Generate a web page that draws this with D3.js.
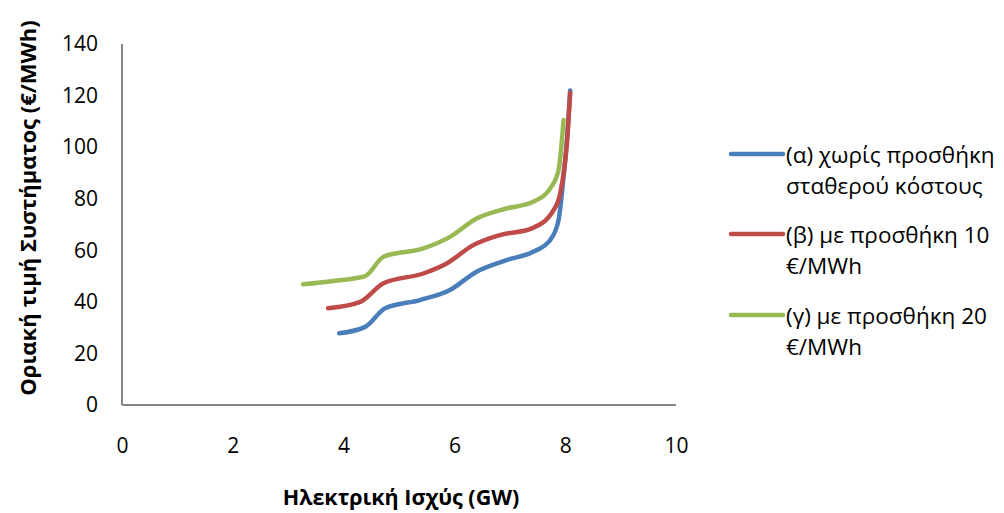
<!DOCTYPE html>
<html>
<head>
<meta charset="utf-8">
<script src="https://cdn.jsdelivr.net/npm/d3@7"></script>
<style>
  html, body { margin: 0; padding: 0; background: #fff; }
  svg { display: block; }
  text { font-family: "Open Sans", "Noto Sans", sans-serif; fill: #000; }
</style>
</head>
<body>
<svg id="chart" width="1004" height="513"></svg>
<script>
// Power (GW) vs system marginal price (€/MWh) for the three scenarios
const seriesNames = [
  ["(α) χωρίς προσθήκη", "σταθερού κόστους"],
  ["(β) με προσθήκη 10", "€/MWh"],
  ["(γ) με προσθήκη 20", "€/MWh"]
];
const seriesColors = ["#4A7EBB", "#BE4B48", "#98B954"];

const powerA = [3.92, 4.39, 4.75, 5.38, 5.92, 6.40, 6.94, 7.42, 7.73, 7.88, 7.97, 8.04, 8.09];
const priceA = [27.8, 30.3, 37.5, 40.7, 44.6, 51.7, 56.2, 59.4, 64.0, 71.7, 88.5, 105.0, 122.0];

const powerB = [3.72, 4.30, 4.72, 5.44, 5.86, 6.34, 6.82, 7.40, 7.79, 7.91, 8.03, 8.09];
const priceB = [37.5, 40.0, 47.2, 51.0, 54.9, 62.0, 65.9, 68.5, 75.6, 82.0, 101.4, 121.0];

const powerC = [3.27, 3.81, 4.39, 4.72, 5.44, 5.92, 6.40, 6.94, 7.42, 7.73, 7.88, 7.97];
const priceC = [46.8, 48.1, 50.0, 57.5, 60.7, 65.2, 72.3, 76.2, 78.8, 84.0, 91.1, 110.5];

const xTicks = [0, 2, 4, 6, 8, 10];
const yTicks = [0, 20, 40, 60, 80, 100, 120, 140];

const xTitle = "Ηλεκτρική Ισχύς (GW)";
const yTitle = "Οριακή τιμή Συστήματος (€/MWh)";

const series = [
  { power: powerA, price: priceA },
  { power: powerB, price: priceB },
  { power: powerC, price: priceC }
].map((s, i) => ({
  name: seriesNames[i],
  color: seriesColors[i],
  points: s.power.map((p, j) => [p, s.price[j]])
}));

const svg = d3.select("#chart");
const plot = { left: 122, right: 676, top: 44, bottom: 405 };

const x = d3.scaleLinear().domain([0, 10]).range([plot.left, plot.right]);
const y = d3.scaleLinear().domain([0, 140]).range([plot.bottom, plot.top]);

// Axes: plain grey lines, labels without tick marks
const xAxis = d3.axisBottom(x).tickValues(xTicks).tickSize(0).tickPadding(33);
const yAxis = d3.axisLeft(y).tickValues(yTicks).tickSize(0).tickPadding(24);

const gx = svg.append("g").attr("transform", `translate(0,${plot.bottom})`).call(xAxis);
const gy = svg.append("g").attr("transform", `translate(${plot.left},0)`).call(yAxis);

[gx, gy].forEach(g => {
  g.select(".domain").attr("stroke", "#868686").attr("stroke-width", 2);
  g.selectAll("text")
    .style("font-family", '"Open Sans", "Noto Sans", sans-serif')
    .style("font-size", "21px")
    .attr("fill", "#000");
});
gx.select(".domain").attr("d", `M${plot.left},0H${plot.right}`);
gy.select(".domain").attr("d", `M0,${plot.top}V${plot.bottom}`);

// Curves
const line = d3.line()
  .x(d => x(d[0]))
  .y(d => y(d[1]))
  .curve(d3.curveMonotoneX);

svg.append("g").selectAll("path")
  .data(series)
  .join("path")
  .attr("d", d => line(d.points))
  .attr("fill", "none")
  .attr("stroke", d => d.color)
  .attr("stroke-width", 4.5)
  .attr("stroke-linecap", "round")
  .attr("stroke-linejoin", "round");

// Axis titles
svg.append("text")
  .attr("x", 401)
  .attr("y", 505)
  .attr("text-anchor", "middle")
  .style("font-size", "21.5px")
  .style("font-weight", "bold")
  .text(xTitle);

svg.append("text")
  .attr("transform", "translate(36,208) rotate(-90)")
  .attr("text-anchor", "middle")
  .style("font-size", "22px")
  .style("font-weight", "bold")
  .text(yTitle);

// Legend
const legend = svg.append("g");
const legendY = [154, 234, 315];
series.forEach((s, i) => {
  const g = legend.append("g").attr("transform", `translate(0,${legendY[i]})`);
  g.append("line")
    .attr("x1", 731).attr("x2", 783)
    .attr("y1", 0).attr("y2", 0)
    .attr("stroke", s.color)
    .attr("stroke-width", 4.5)
    .attr("stroke-linecap", "round");
  s.name.forEach((t, k) => {
    g.append("text")
      .attr("x", 786)
      .attr("y", 9 + k * 31)
      .style("font-size", "22.5px")
      .text(t);
  });
});
</script>
</body>
</html>
